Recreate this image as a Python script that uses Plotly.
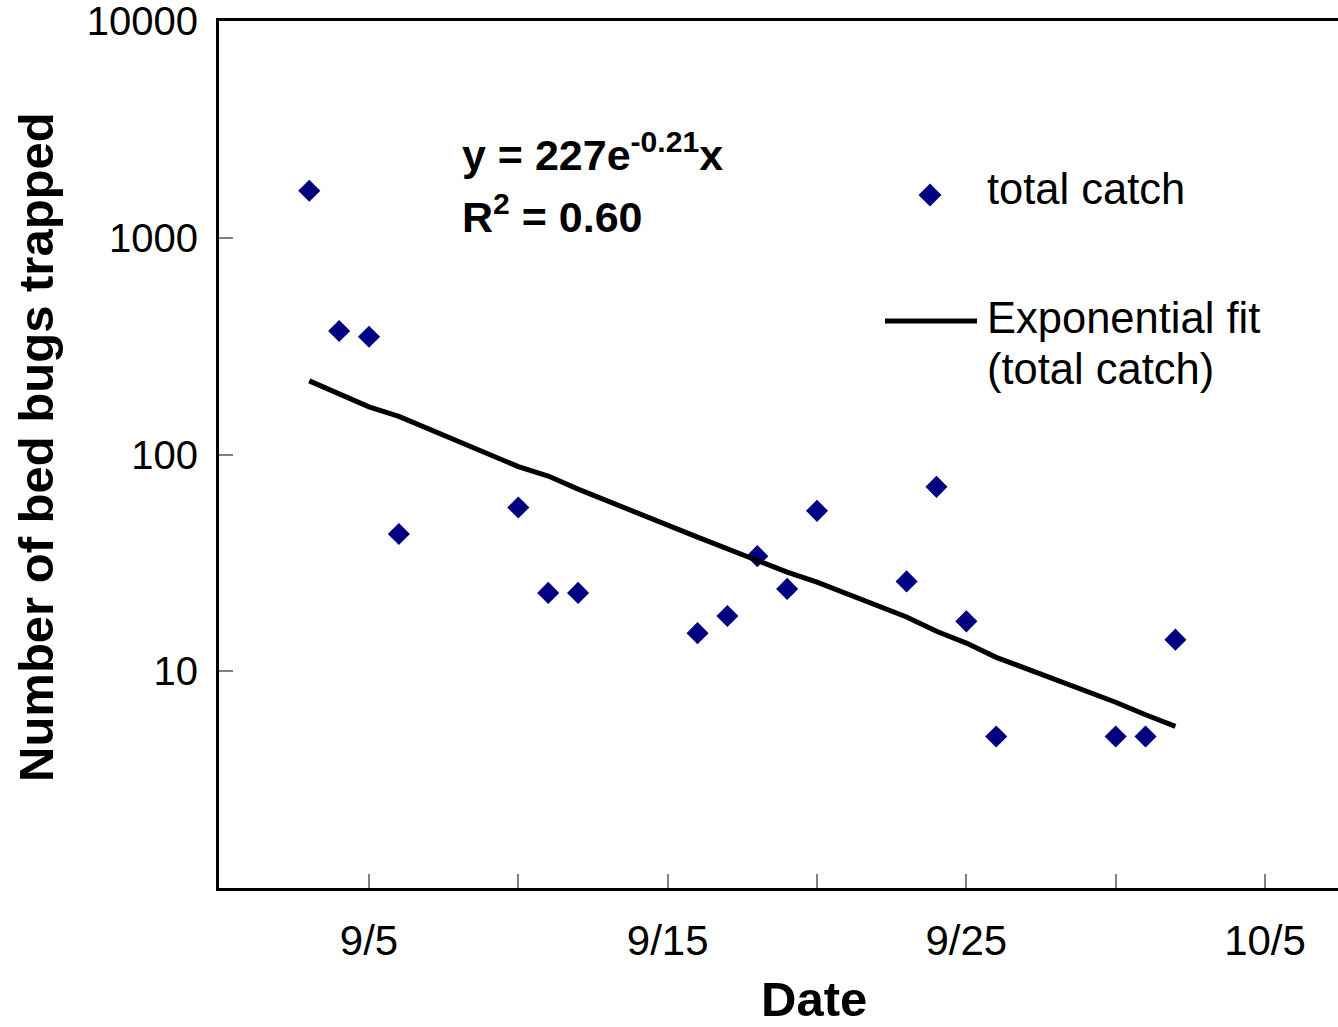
import plotly.graph_objects as go

# ---- data ----
dates = ["2006-09-03", "2006-09-04", "2006-09-05", "2006-09-06", "2006-09-10",
         "2006-09-11", "2006-09-12", "2006-09-16", "2006-09-17", "2006-09-18",
         "2006-09-19", "2006-09-20", "2006-09-23", "2006-09-24", "2006-09-25",
         "2006-09-26", "2006-09-30", "2006-10-01", "2006-10-02"]
total_catch = [1650, 372, 350, 43, 57, 23, 23, 15, 18, 34, 24, 55, 26, 71, 17, 5, 5, 5, 14]
fit_values = [219, 190, 166, 150, 88, 79.6, 69.3, 41.6, 36.6, 32.2, 28.7, 25.8,
              17.8, 15.3, 13.5, 11.6, 7.2, 6.3, 5.57]

label_dates = ["2006-09-05", "2006-09-15", "2006-09-25", "2006-10-05"]
label_text = ["9/5", "9/15", "9/25", "10/5"]
y_tickvals = [10, 100, 1000, 10000]
y_ticktext = ["10", "100", "1000", "10000"]

FONT = "Arial, 'Liberation Sans', sans-serif"
W, H = 1338, 1027
ML, MR, MT, MB = 219, 0, 21, 139
PW, PH = W - ML - MR, H - MT - MB
PLOT_LEFT, PLOT_BOTTOM = ML, MT + PH


def px(x):
    return (x - PLOT_LEFT) / PW


def py(y):
    return (PLOT_BOTTOM - y) / PH


fig = go.Figure()
fig.add_trace(go.Scatter(
    x=dates, y=total_catch, mode="markers", name="total catch",
    marker=dict(symbol="diamond", size=17, color="#000080"),
    showlegend=False,
))
fig.add_trace(go.Scatter(
    x=dates, y=fit_values, mode="lines", name="Exponential fit (total catch)",
    line=dict(color="black", width=5), showlegend=False,
))

fig.update_layout(
    width=W, height=H,
    margin=dict(l=ML, r=MR, t=MT, b=MB, pad=0),
    paper_bgcolor="white", plot_bgcolor="white",
    font=dict(family=FONT, color="black"),
    showlegend=False,
)

fig.update_xaxes(
    type="date",
    range=["2006-08-30 23:28", "2006-10-07 10:39"],
    tickmode="array", tickvals=label_dates, ticktext=label_text,
    ticks="inside", ticklen=14, tickwidth=1.5, tickcolor="#808080",
    minor=dict(ticks="inside", ticklen=14, tickwidth=1.5, tickcolor="#808080",
               tick0="2006-09-05", dtick=5 * 86400000, showgrid=False),
    showline=True, linecolor="black", linewidth=3, mirror=True,
    showgrid=False, zeroline=False,
    tickfont=dict(size=42, family=FONT),
    ticklabelstandoff=14,
)
fig.update_yaxes(
    type="log", range=[0, 4.001],
    tickvals=y_tickvals, ticktext=y_ticktext,
    ticks="inside", ticklen=14, tickwidth=1.5, tickcolor="#808080",
    showline=True, linecolor="black", linewidth=3, mirror=False,
    showgrid=False, zeroline=False,
    tickfont=dict(size=40, family=FONT),
    ticklabelstandoff=10, ticklabeloverflow="allow",
)

# axis titles
fig.add_annotation(xref="paper", yref="paper", x=px(814), y=py(1027), xanchor="center", yanchor="bottom",
                   text="<b>Date</b>", showarrow=False, font=dict(size=49, family=FONT), borderpad=0)
fig.add_annotation(xref="paper", yref="paper", x=px(36), y=py(447), xanchor="center", yanchor="middle",
                   text="<b>Number of bed bugs trapped</b>", textangle=-90, showarrow=False,
                   font=dict(size=49, family=FONT))

# equation annotations
fig.add_annotation(xref="paper", yref="paper", x=px(460), y=py(152), xanchor="left", yanchor="middle",
                   text="<b>y = 227e<sup>-0.21</sup>x</b>", showarrow=False, font=dict(size=43, family=FONT))
fig.add_annotation(xref="paper", yref="paper", x=px(460), y=py(214), xanchor="left", yanchor="middle",
                   text="<b>R<sup>2</sup> = 0.60</b>", showarrow=False, font=dict(size=43, family=FONT))

# manual legend
fig.add_shape(type="path", xref="paper", yref="paper", xsizemode="pixel", ysizemode="pixel",
              xanchor=px(930), yanchor=py(195),
              path="M 0,11.5 L 11.5,0 L 0,-11.5 L -11.5,0 Z",
              fillcolor="#000080", line=dict(width=0))
fig.add_shape(type="line", xref="paper", yref="paper", x0=px(885), x1=px(977), y0=py(321), y1=py(321),
              line=dict(color="black", width=5))
fig.add_annotation(xref="paper", yref="paper", x=px(985), y=py(189), xanchor="left", yanchor="middle",
                   text="total catch", showarrow=False, font=dict(size=43.5, family=FONT))
fig.add_annotation(xref="paper", yref="paper", x=px(985), y=py(318), xanchor="left", yanchor="middle",
                   text="Exponential fit", showarrow=False, font=dict(size=43.5, family=FONT))
fig.add_annotation(xref="paper", yref="paper", x=px(985), y=py(369), xanchor="left", yanchor="middle",
                   text="(total catch)", showarrow=False, font=dict(size=43.5, family=FONT))

fig.write_html(
    "out.html",
    config={"displayModeBar": False},
    post_script="document.body.style.margin='0';document.documentElement.style.overflow='hidden';document.body.style.overflow='hidden';",
)
